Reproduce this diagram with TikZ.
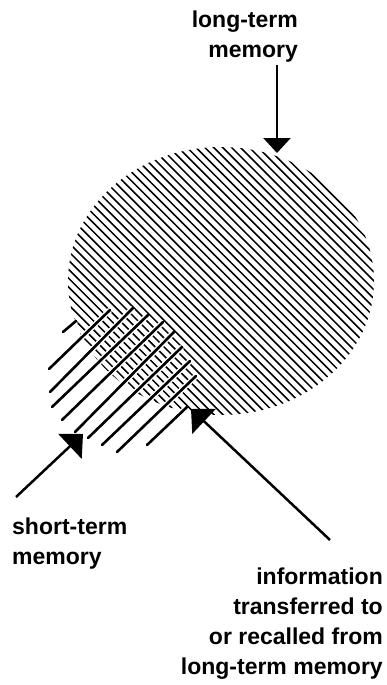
\documentclass[tikz,border=0pt]{standalone}
\usepackage{fontspec}
\setmainfont{Liberation Sans}
\usetikzlibrary{arrows.meta}
\begin{document}
\begin{tikzpicture}[x=1pt,y=-1pt,
  lbl/.style={font=\bfseries\fontsize{23}{30}\selectfont, inner sep=0pt},
  hatch/.style={line width=1.5pt},
  band/.style={line width=2.6pt, line cap=round, preaction={draw=white, line width=5.5pt}},
  arr/.style={line width=2.5pt, -{Triangle[length=18pt,width=34pt]}},
  arrtop/.style={line width=2.5pt, -{Triangle[length=15pt,width=27pt]}},
]
\useasboundingbox (0,0) rectangle (387,685);
% long-term memory (hatched ellipse)
\begin{scope}
  \clip (221,281) ellipse [x radius=153pt, y radius=134pt];
  \foreach \i in {0,...,66} {
    \pgfmathsetmacro{\c}{-352+\i*8.9}
    \draw[hatch] (\c+140,140) -- (\c+420,420);
  }
\end{scope}
% short-term memory (band of long strokes)
\draw[band] (63,332) -- (76,321);
\draw[band] (49,369) -- (110,310);
\draw[band] (50,392) -- (133,308);
\draw[band] (52,407) -- (148,315);
\draw[band] (62,420) -- (163,322);
\draw[band] (75,432) -- (174,332);
\draw[band] (88,438) -- (182,347);
\draw[band] (102,445) -- (190,361);
\draw[band] (117,452) -- (196,376);
\draw[band] (147,445) -- (187,407);
% labels
\node[lbl, anchor=north east, align=right] (ltm) at (298,11) {long-term\\memory};
\node[lbl, anchor=north west, align=left] (stm) at (12,518) {short-term\\memory};
\node[lbl, anchor=north east, align=right] (info) at (383,568) {information\\transferred to\\or recalled from\\long-term memory};
% arrows
\coordinate (ltmfrom) at (277,65);
\coordinate (ltmtip) at (277,153);
\coordinate (stmfrom) at (16,497);
\coordinate (stmtip) at (83,434);
\coordinate (infofrom) at (330,540);
\coordinate (infotip) at (191,409);
\draw[arrtop] (ltmfrom) -- (ltmtip);
\draw[arr] (stmfrom) -- (stmtip);
\draw[arr] (infofrom) -- (infotip);
\end{tikzpicture}
\end{document}
